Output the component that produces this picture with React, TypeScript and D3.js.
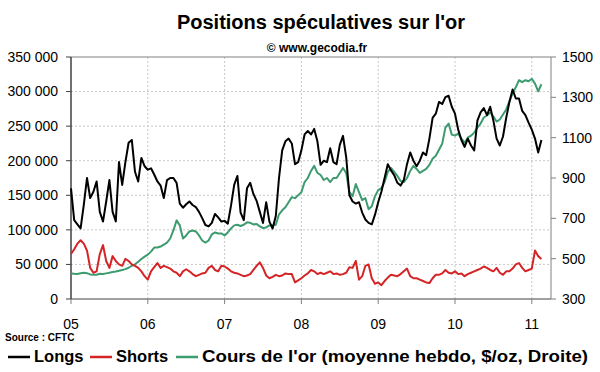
import React from "react";
import * as d3 from "d3";

// Semi-monthly readings (24 per year) starting January 2005
const longs = [
  160,114,108,102,136,175,146,155,170,126,112,141,172,126,112,198,165,198,226,230,184,170,204,192,
  187,189,180,170,164,146,172,175,175,168,138,132,137,141,136,133,126,117,107,105,110,123,118,112,
  113,109,135,165,178,125,114,160,168,152,142,126,110,140,112,102,120,175,215,228,232,225,195,198,
  215,238,243,238,246,228,194,200,198,218,198,195,223,236,205,150,141,138,140,125,115,110,108,122,
  140,155,175,195,186,179,168,164,172,195,212,200,192,200,212,208,232,262,268,285,282,292,294,278,
  268,245,230,220,232,222,215,258,270,276,266,278,258,232,222,235,262,285,303,290,290,272,266,255,
  245,232,212,230,
].map((v) => v * 1000);

const shorts = [
  65,72,80,85,80,70,45,38,40,65,78,55,45,62,55,50,48,58,55,50,48,45,40,33,
  28,40,46,52,45,48,46,44,40,38,33,40,43,40,36,33,35,37,38,45,48,42,40,48,
  47,44,40,38,37,35,33,34,36,42,48,53,45,34,30,32,35,33,34,37,36,36,24,27,
  30,34,37,42,40,36,38,36,38,40,36,37,35,36,38,46,45,55,28,33,48,50,30,22,
  24,20,26,31,35,34,33,36,40,44,33,30,30,28,26,24,23,30,35,35,37,42,38,37,
  40,36,37,33,36,38,40,42,44,47,45,42,40,45,38,35,40,40,44,50,52,45,40,42,
  44,70,62,58,
].map((v) => v * 1000);

const gold = [
  427,425,424,428,430,428,422,420,420,425,424,427,430,434,436,440,444,448,455,465,472,485,498,510,
  520,535,555,555,560,570,580,600,640,690,665,600,615,635,640,635,615,590,580,590,620,630,625,625,
  615,630,650,665,668,662,668,680,678,670,672,660,652,655,665,665,668,720,740,755,780,805,800,815,
  830,880,900,935,960,925,915,890,900,880,900,900,925,950,925,830,810,870,830,790,800,745,760,810,
  840,850,880,930,950,930,910,885,880,900,935,960,945,925,935,945,965,995,1010,1040,1070,1150,1170,1115,
  1110,1120,1095,1075,1100,1110,1125,1150,1170,1200,1210,1225,1205,1180,1190,1215,1240,1280,1320,1350,1385,1375,1385,1380,
  1392,1368,1330,1365,
];

const dates = longs.map((_, i) => 2005 + i / 24);

const yearTicks = [2005, 2006, 2007, 2008, 2009, 2010, 2011];
const yearLabels = ["05", "06", "07", "08", "09", "10", "11"];
const leftTicks = [0, 50000, 100000, 150000, 200000, 250000, 300000, 350000];
const leftLabels = ["0", "50 000", "100 000", "150 000", "200 000", "250 000", "300 000", "350 000"];
const rightTicks = [300, 500, 700, 900, 1100, 1300, 1500];

const COLORS = { longs: "#000000", shorts: "#d42426", gold: "#3d9b70" };
const FONT = "'Liberation Sans', Arial, sans-serif";

export default function App() {
  const W = 600, H = 372;
  const L = 71, R = 551, T = 57, B = 299;
  const x = d3.scaleLinear().domain([2005, 2011.25]).range([L, R]);
  const yL = d3.scaleLinear().domain([0, 350000]).range([B, T]);
  const yR = d3.scaleLinear().domain([300, 1500]).range([B, T]);

  const lineL = d3.line<number>().x((_, i) => x(dates[i])).y((d) => yL(d)).curve(d3.curveLinear);
  const lineR = d3.line<number>().x((_, i) => x(dates[i])).y((d) => yR(d)).curve(d3.curveLinear);

  const legend = [
    { x: 8, label: "Longs", color: COLORS.longs, len: 0 },
    { x: 90, label: "Shorts", color: COLORS.shorts, len: 0 },
    { x: 176, label: "Cours de l'or (moyenne hebdo, $/oz, Droite)", color: COLORS.gold, len: 386 },
  ];

  return (
    <svg width={W} height={H} style={{ position: "absolute", left: 0, top: 0, background: "#fff" }} fontFamily={FONT}>
      <rect x={0} y={0} width={W} height={H} fill="#fff" />
      <text x={321} y={29} textAnchor="middle" fontSize={20} fontWeight="bold" fill="#000">
        Positions spéculatives sur l'or
      </text>
      <text x={317} y={52} textAnchor="middle" fontSize={12} fontWeight="bold" fill="#000">
        © www.gecodia.fr
      </text>

      {/* gridlines */}
      {leftTicks.slice(1, -1).map((t) => (
        <line key={"h" + t} x1={L} x2={R} y1={yL(t)} y2={yL(t)} stroke="#c8c8c8" strokeDasharray="2,2" strokeWidth={1} />
      ))}
      {yearTicks.slice(1).map((t) => (
        <line key={"v" + t} x1={x(t)} x2={x(t)} y1={T} y2={B} stroke="#c8c8c8" strokeDasharray="2,2" strokeWidth={1} />
      ))}

      {/* frame */}
      <line x1={L} x2={R} y1={T} y2={T} stroke="#808080" strokeWidth={1} />
      <line x1={R} x2={R} y1={T} y2={B} stroke="#808080" strokeWidth={1} />
      <line x1={L} x2={R} y1={B} y2={B} stroke="#808080" strokeWidth={1.5} />
      <line x1={L} x2={L} y1={T} y2={B} stroke="#404040" strokeWidth={1.5} />

      {/* left axis */}
      {leftTicks.map((t, i) => (
        <g key={"l" + t}>
          <line x1={L - 5} x2={L} y1={yL(t)} y2={yL(t)} stroke="#404040" strokeWidth={1} />
          <text x={58} y={yL(t)} dy="0.35em" textAnchor="end" fontSize={14} fill="#000">
            {leftLabels[i]}
          </text>
        </g>
      ))}
      {/* right axis */}
      {rightTicks.map((t) => (
        <g key={"r" + t}>
          <line x1={R} x2={R + 5} y1={yR(t)} y2={yR(t)} stroke="#808080" strokeWidth={1} />
          <text x={562} y={yR(t)} dy="0.35em" textAnchor="start" fontSize={14} fill="#000">
            {t}
          </text>
        </g>
      ))}
      {/* bottom axis */}
      {yearTicks.map((t, i) => (
        <g key={"b" + t}>
          <line x1={x(t)} x2={x(t)} y1={B} y2={B + 5} stroke="#808080" strokeWidth={1} />
          <text x={x(t)} y={329} textAnchor="middle" fontSize={14} fill="#000">
            {yearLabels[i]}
          </text>
        </g>
      ))}

      {/* series */}
      <path d={lineR(gold) || ""} fill="none" stroke={COLORS.gold} strokeWidth={2} strokeLinejoin="round" />
      <path d={lineL(shorts) || ""} fill="none" stroke={COLORS.shorts} strokeWidth={2} strokeLinejoin="round" />
      <path d={lineL(longs) || ""} fill="none" stroke={COLORS.longs} strokeWidth={2} strokeLinejoin="round" />

      <text x={5} y={341} fontSize={10} fontWeight="bold" fill="#000">Source : CFTC</text>

      {legend.map((l) => (
        <g key={l.label}>
          <line x1={l.x} x2={l.x + 22} y1={357} y2={357} stroke={l.color} strokeWidth={2.5} />
          {l.len ? (
            <text x={l.x + 26} y={362} fontSize={17} fontWeight="bold" fill="#000" textLength={l.len} lengthAdjust="spacingAndGlyphs">{l.label}</text>
          ) : (
            <text x={l.x + 26} y={362} fontSize={16.5} fontWeight="bold" fill="#000">{l.label}</text>
          )}
        </g>
      ))}
    </svg>
  );
}
